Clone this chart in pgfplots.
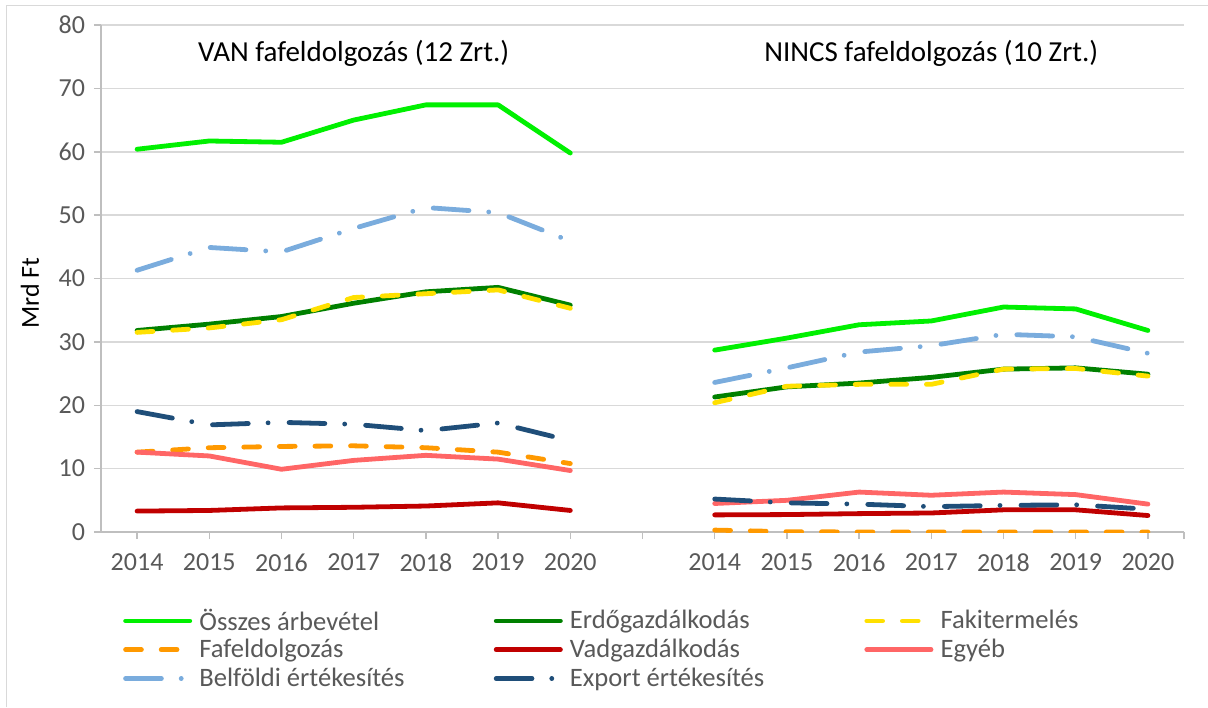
\documentclass[border=0pt]{standalone}
\usepackage{fontspec}
\setmainfont{Carlito}
\usepackage{pgfplots}
\usepackage{pgfplotstable}
\pgfplotsset{compat=1.18}
\definecolor{cTot}{HTML}{00F000}
\definecolor{cErdo}{HTML}{008000}
\definecolor{cFaki}{HTML}{FFE000}
\definecolor{cFafel}{HTML}{FF9900}
\definecolor{cVad}{HTML}{C00000}
\definecolor{cEgyeb}{HTML}{FF6666}
\definecolor{cBelf}{HTML}{7AACDD}
\definecolor{cExp}{HTML}{1F4E79}
\definecolor{gridc}{HTML}{D9D9D9}
\definecolor{axc}{HTML}{BFBFBF}
\definecolor{textc}{HTML}{595959}

\pgfplotstableread{
x  tot  erdo faki fafel vad  egyeb belf exp
0  60.4 31.8 31.5 12.6  3.3  12.6  41.3 19.0
1  61.7 32.8 32.2 13.3  3.4  12.0  44.9 16.9
2  61.5 34.0 33.5 13.5  3.8  9.9   44.2 17.3
3  65.0 36.1 37.0 13.6  3.9  11.3  47.9 17.0
4  67.4 37.9 37.6 13.3  4.1  12.1  51.2 16.0
5  67.4 38.6 38.2 12.6  4.6  11.5  50.4 17.2
6  59.8 35.8 35.3 10.8  3.4  9.7   45.9 14.4
7  nan  nan  nan  nan   nan  nan   nan  nan
8  28.7 21.3 20.4 0.3   2.7  4.5   23.6 5.2
9  30.6 22.9 23.0 0.05  2.75 5.0   25.9 4.6
10 32.7 23.5 23.3 0.0   2.9  6.3   28.4 4.4
11 33.3 24.4 23.3 0.0   3.0  5.8   29.4 4.0
12 35.5 25.7 25.7 0.0   3.5  6.3   31.2 4.2
13 35.2 25.9 25.8 0.0   3.5  5.9   30.8 4.3
14 31.8 24.9 24.6 0.0   2.6  4.4   28.2 3.6
}\data

\begin{document}
\begin{tikzpicture}[x=1pt,y=1pt]
\useasboundingbox (0,0) rectangle (604,353.5);
\draw[gridc, line width=0.75pt] (3.25,0) -- (3.25,350.75) -- (604,350.75);
\begin{axis}[
  at={(50.5pt,87.5pt)}, anchor=south west,
  scale only axis, width=541.5pt, height=253.5pt,
  xmin=-0.5, xmax=14.5, ymin=0, ymax=80,
  axis x line*=bottom, axis y line*=left,
  axis line style={draw=axc, line width=0.75pt, -},
  xtick={0,1,2,3,4,5,6,7,8,9,10,11,12,13,14},
  xticklabels={2014,2015,2016,2017,2018,2019,2020,{},2014,2015,2016,2017,2018,2019,2020},
  extra x ticks={14.5}, extra x tick labels={{}},
  ytick={0,10,20,30,40,50,60,70,80},
  ymajorgrids, grid style={gridc, line width=0.75pt},
  tick align=outside, major tick length=3.5pt,
  tick style={draw=axc, line width=0.75pt},
  /pgf/number format/assume math mode=true,
  ticklabel style={font=\fontsize{13}{15}\selectfont, text=textc},
  xticklabel style={yshift=-4pt},
  yticklabel style={xshift=-1pt},
  unbounded coords=jump,
  every axis y label/.style={at={(axis description cs:-0.0656,0.471)}, rotate=90, anchor=center, font=\fontsize{13}{15}\selectfont, text=black},
  ylabel={Mrd Ft},
  legend columns=3,
  legend style={at={(0.0205,-0.147)}, anchor=north west, draw=none, fill=none,
    inner sep=0pt, outer sep=0pt, font=\fontsize{13.3}{15}\selectfont, text=textc,
    nodes={inner sep=0pt, anchor=west, minimum height=14.4pt},
    /tikz/every odd column/.style={column sep=3.6pt},
    /tikz/every even column/.style={column sep=2.2pt}},
  legend image code/.code={\draw[#1, line cap=round] (0pt,0pt) -- (32.1pt,0pt);},
  every axis plot/.append style={line join=round, line cap=round},
]
\addplot[cTot, line width=2.4pt] table[x=x,y=tot]{\data};
\addplot[cErdo, line width=2.4pt] table[x=x,y=erdo]{\data};
\addplot[cFaki, line width=2.4pt, dash pattern=on 7.9pt off 9.9pt] table[x=x,y=faki]{\data};
\addplot[cFafel, line width=2.4pt, dash pattern=on 7.9pt off 9.9pt] table[x=x,y=fafel]{\data};
\addplot[cVad, line width=2.4pt] table[x=x,y=vad]{\data};
\addplot[cEgyeb, line width=2.4pt] table[x=x,y=egyeb]{\data};
\addplot[cBelf, line width=2.4pt, dash pattern=on 17.9pt off 9.9pt on 0.01pt off 10.5pt] table[x=x,y=belf]{\data};
\addplot[cExp, line width=2.4pt, dash pattern=on 17.9pt off 9.9pt on 0.01pt off 10.5pt] table[x=x,y=exp]{\data};
\legend{\makebox[145pt][l]{Összes árbevétel},\makebox[145pt][l]{Erdőgazdálkodás},\makebox[145pt][l]{Fakitermelés},
  \makebox[145pt][l]{Fafeldolgozás},\makebox[145pt][l]{Vadgazdálkodás},\makebox[145pt][l]{Egyéb},
  \makebox[145pt][l]{Belföldi értékesítés},\makebox[145pt][l]{Export értékesítés}}
\node[font=\fontsize{14.5}{17}\selectfont, text=black] at (axis cs:3,75.6) {VAN fafeldolgozás (12 Zrt.)};
\node[font=\fontsize{14.5}{17}\selectfont, text=black] at (axis cs:11,75.6) {NINCS fafeldolgozás (10 Zrt.)};
\end{axis}
\end{tikzpicture}
\end{document}
